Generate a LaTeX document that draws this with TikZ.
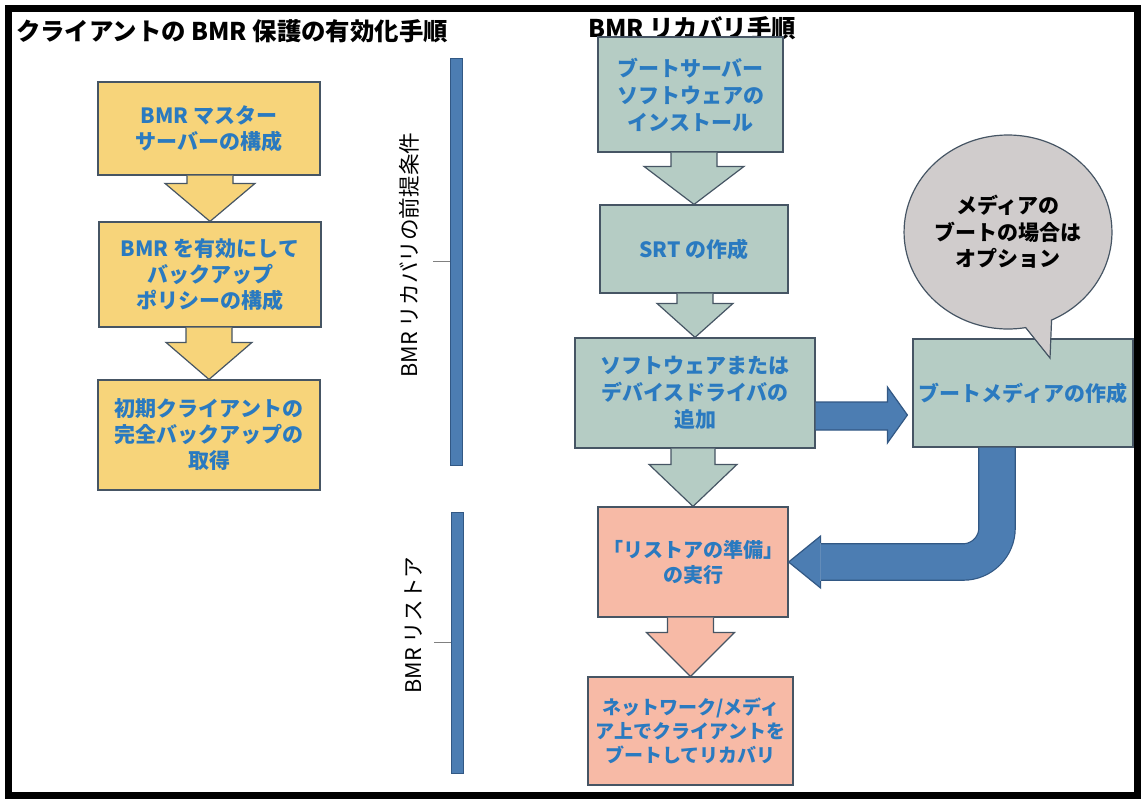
\documentclass[tikz,border=0pt]{standalone}
\usepackage{fontspec}
\newfontfamily\jpfont{Noto Sans CJK JP}
\usetikzlibrary{calc,shapes.callouts}
\definecolor{stepyellow}{RGB}{247,212,122}
\definecolor{stepsage}{RGB}{181,204,196}
\definecolor{stepsalmon}{RGB}{247,186,166}
\definecolor{stepblue}{RGB}{42,122,192}
\definecolor{stepedge}{RGB}{70,85,100}
\definecolor{barblue}{RGB}{76,125,178}
\definecolor{barbluedark}{RGB}{50,88,132}
\definecolor{bubblegray}{RGB}{208,204,204}

% block arrow pointing down: from, to, shaft half, head half, head length, style
\newcommand{\downflow}[6]{%
  \filldraw[#6] ($(#2.north |- #1.south)+(-#3,0)$) -- ($(#2.north)+(-#3,-#5)$)
    -- ($(#2.north)+(-#4,-#5)$) -- (#2.north) -- ($(#2.north)+(#4,-#5)$)
    -- ($(#2.north)+(#3,-#5)$) -- ($(#2.north |- #1.south)+(#3,0)$);}

\begin{document}
\begin{tikzpicture}[x=0.5pt, y=-0.5pt,
  headline/.style={font=\jpfont\bfseries\fontsize{12.2}{15}\selectfont},
  stepbox/.style={rectangle, draw=stepedge, line width=0.6pt, align=center, inner sep=0pt,
    text=stepblue, font=\jpfont\bfseries\fontsize{10.5}{13}\selectfont},
  yellowbox/.style={stepbox, fill=stepyellow, minimum width=111pt},
  sagebox/.style={stepbox, fill=stepsage, font=\jpfont\bfseries\fontsize{10.5}{13.5}\selectfont},
  salmonbox/.style={stepbox, fill=stepsalmon, font=\jpfont\bfseries\fontsize{10}{12.5}\selectfont},
  phasebar/.style={rectangle, fill=barblue, draw=barbluedark, line width=0.4pt, minimum width=6pt, inner sep=0pt},
  phaselabel/.style={rotate=90, font=\jpfont\fontsize{10.8}{12}\selectfont},
  tickline/.style={draw=gray, line width=0.6pt},
  yellowflow/.style={fill=stepyellow, draw=stepedge, line width=0.6pt},
  sageflow/.style={fill=stepsage, draw=stepedge, line width=0.6pt},
  salmonflow/.style={fill=stepsalmon, draw=stepedge, line width=0.6pt},
  blueflow/.style={fill=barblue, draw=barbluedark, line width=0.6pt},
  bluepipe/.style={draw=barbluedark, line width=0.6pt, double=barblue, double distance=17.6pt, rounded corners=17pt}
]
\useasboundingbox (0,0) rectangle (1144,798);

\node[headline] (lefttitle) at (232,31) {クライアントの BMR 保護の有効化手順};
\node[headline] (righttitle) at (692,28) {BMR リカバリ手順};

\node[yellowbox, minimum height=46.5pt] (master) at (209,128.5) {BMR マスター\\サーバーの構成};
\node[yellowbox, minimum height=52.5pt] (policy) at (210,274.5) {BMR を有効にして\\バックアップ\\ポリシーの構成};
\node[yellowbox, minimum height=55pt] (fullbackup) at (209,435) {初期クライアントの\\完全バックアップの\\取得};

\node[phasebar, minimum height=203.5pt] (prereqbar) at (456,261.5) {};
\node[phasebar, minimum height=130.5pt] (restorebar) at (457.5,642.5) {};
\draw[tickline] (prereqbar.west) -- ++(-17,0);
\draw[tickline] (restorebar.west) -- ++(-17,0);
\node[phaselabel] (prereqlabel) at (409,255) {BMR リカバリの前提条件};
\node[phaselabel] (restorelabel) at (414,625) {BMR リストア};

\node[sagebox, minimum width=92.5pt, minimum height=57.5pt] (bootserver) at (690.5,94.5) {ブートサーバー\\ソフトウェアの\\インストール};
\node[sagebox, minimum width=94pt, minimum height=44pt] (srt) at (694,249) {SRT の作成};
\node[sagebox, minimum width=120pt, minimum height=55pt] (drivers) at (695,393) {ソフトウェアまたは\\デバイスドライバの\\追加};
\node[sagebox, minimum width=110pt, minimum height=54pt] (bootmedia) at (1023,393) {ブートメディアの作成};
\node[salmonbox, minimum width=95pt, minimum height=55pt] (prepare) at (693,562) {「リストアの準備」\\の実行};
\node[salmonbox, minimum width=102.5pt, minimum height=54pt, font=\jpfont\bfseries\fontsize{9.5}{12}\selectfont] (recover) at (690.5,731) {ネットワーク/メディ\\ア上でクライアントを\\ブートしてリカバリ};

\downflow{master}{policy}{23}{45}{38}{yellowflow}
\downflow{policy}{fullbackup}{23}{43}{37}{yellowflow}
\downflow{bootserver}{srt}{23}{50}{38}{sageflow}
\downflow{srt}{drivers}{18}{38}{34}{sageflow}
\downflow{drivers}{prepare}{22}{44}{42}{sageflow}
\downflow{prepare}{recover}{23}{44}{44}{salmonflow}

\filldraw[blueflow] ($(drivers.east)+(0,9)$) -- ($(bootmedia.west)+(-25,9)$) -- ($(bootmedia.west)+(-25,-6)$)
  -- ($(bootmedia.west)+(-5,22)$) -- ($(bootmedia.west)+(-25,50)$) -- ($(bootmedia.west)+(-25,37)$) -- ($(drivers.east)+(0,37)$);
\draw[bluepipe] ($(bootmedia.south)+(-26,0)$) |- ($(prepare.east)+(32,0)$);
\filldraw[blueflow] ($(prepare.east)+(32,-19)$) -- ($(prepare.east)+(32,-26)$) -- (prepare.east)
  -- ($(prepare.east)+(32,26)$) -- ($(prepare.east)+(32,19)$);

\coordinate (bubbletip) at (1050,358);
\node[ellipse callout, callout absolute pointer={(bubbletip)}, fill=bubblegray, draw=stepedge, line width=0.6pt,
  minimum width=100pt, minimum height=97pt, inner sep=0pt, align=center,
  font=\jpfont\bfseries\fontsize{10.5}{13.2}\selectfont] (bubble) at (1008,232) {メディアの\\ブートの場合は\\オプション};

\draw[line width=3.5pt] (8.5,8.5) rectangle (1137,795.5);
\end{tikzpicture}
\end{document}
